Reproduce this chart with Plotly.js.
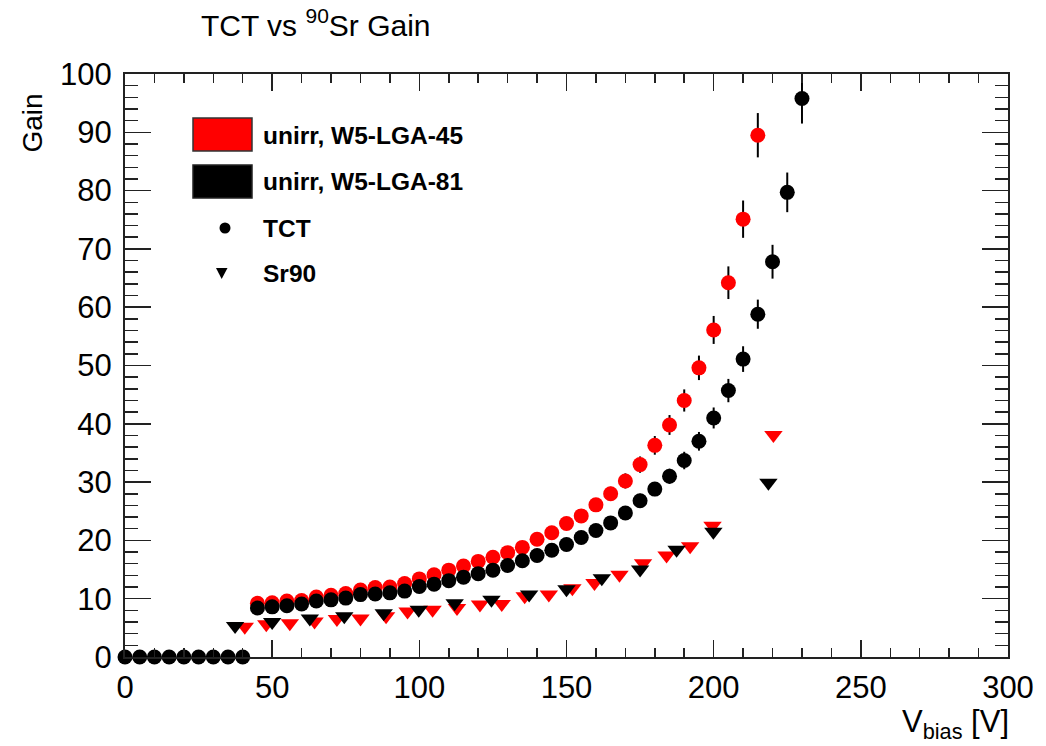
<!DOCTYPE html>
<html>
<head>
<meta charset="utf-8">
<script src="https://cdn.plot.ly/plotly-3.0.1.min.js"></script>
<style>
html,body{margin:0;padding:0;background:#fff;}
#chart{width:1046px;height:746px;}
</style>
</head>
<body>
<div id="chart"></div>
<script>
// ---- data ----
const voltTCT45 = [45,50,55,60,65,70,75,80,85,90,95,100,105,110,115,120,125,130,135,140,145,150,155,160,165,170,175,180,185,190,195,200,205,210,215];
const gainTCT45 = [9.2,9.3,9.6,9.7,10.3,10.6,10.9,11.5,11.9,12.0,12.6,13.4,14.1,14.9,15.6,16.4,17.1,17.9,18.8,20.2,21.3,22.9,24.2,26.1,28.0,30.2,33.0,36.3,39.8,44.0,49.6,56.1,64.2,75.1,89.5];
const errTCT45  = [0.4,0.4,0.4,0.4,0.4,0.5,0.5,0.5,0.5,0.5,0.5,0.6,0.6,0.6,0.7,0.7,0.7,0.8,0.8,0.9,0.9,1.0,1.0,1.1,1.2,1.3,1.4,1.6,1.7,1.9,2.1,2.4,2.8,3.2,3.8];

const voltTCT81 = [0,5,10,15,20,25,30,35,40,45,50,55,60,65,70,75,80,85,90,95,100,105,110,115,120,125,130,135,140,145,150,155,160,165,170,175,180,185,190,195,200,205,210,215,220,225,230];
const gainTCT81 = [0,0,0,0,0,0,0,0,0,8.4,8.6,8.8,9.1,9.6,9.8,10.1,10.7,10.8,11.0,11.3,12.1,12.5,13.1,13.7,14.3,14.9,15.7,16.5,17.4,18.3,19.3,20.5,21.7,23.0,24.7,26.8,28.8,31.0,33.7,37.0,41.0,45.7,51.1,58.8,67.8,79.7,95.8];
const errTCT81  = [0,0,0,0,0,0,0,0,0,0.4,0.4,0.4,0.4,0.4,0.4,0.4,0.5,0.5,0.5,0.5,0.5,0.5,0.6,0.6,0.6,0.6,0.7,0.7,0.7,0.8,0.8,0.9,0.9,1.0,1.1,1.2,1.2,1.3,1.5,1.6,1.8,2.0,2.2,2.5,2.9,3.4,4.3];

const voltSr45 = [40.7,48,56,64.4,72,80,88.7,96,104.5,112.8,120.6,128,135.8,144,152,159.5,168,176,184,192,199.6,220.3];
const gainSr45 = [5.2,5.6,5.8,6.1,6.5,6.6,7.0,7.8,8.1,8.4,9.0,9.1,10.4,10.7,11.8,12.7,14.1,16.1,17.4,19.0,22.5,38.1];

const voltSr81 = [37.4,50,62.8,74.5,87.9,99.8,112,124.5,137.3,150,162,175,187.4,199.9,218.6];
const gainSr81 = [5.3,6.0,6.6,7.0,7.5,8.1,9.2,9.8,10.7,11.6,13.5,15.0,18.4,21.5,29.9];

const legendLabels = ['unirr, W5-LGA-45','unirr, W5-LGA-81','TCT','Sr90'];
const chartTitle = 'TCT vs <sup>90</sup>Sr Gain';
const xTitle = 'V<sub>bias</sub> [V]';
const yTitle = 'Gain';

// ---- styling ----
const RED = '#ff0000', BLACK = '#000000';
const FONT = 'Liberation Sans, Arial, Helvetica, sans-serif';
const W = 1046, H = 746;
const M = {l:125, r:38, t:74, b:89};
const PW = W - M.l - M.r, PH = H - M.t - M.b;
const px = x => (x - M.l) / PW;          // pixel -> paper x
const py = y => (H - M.b - y) / PH;      // pixel -> paper y

const errStyle = arr => ({type:'data', array:arr, visible:true, color:BLACK, thickness:2, width:0});

const traces = [
  {x:voltTCT45, y:gainTCT45, error_y:errStyle(errTCT45), mode:'markers', type:'scatter',
   marker:{symbol:'circle', size:15, color:RED}, showlegend:false, cliponaxis:false},
  {x:voltSr45, y:gainSr45, mode:'markers', type:'scatter',
   marker:{symbol:'triangle-down', size:16, color:RED}, showlegend:false},
  {x:voltTCT81, y:gainTCT81, error_y:errStyle(errTCT81), mode:'markers', type:'scatter',
   marker:{symbol:'circle', size:15, color:BLACK}, showlegend:false, cliponaxis:false},
  {x:voltSr81, y:gainSr81, mode:'markers', type:'scatter',
   marker:{symbol:'triangle-down', size:16, color:BLACK}, showlegend:false}
];

// legend drawn with shapes + annotations (ROOT-style)
const shapes = [
  {type:'rect', xref:'paper', yref:'paper', x0:px(193), x1:px(252), y0:py(151), y1:py(118),
   fillcolor:RED, line:{color:'#333', width:1.5}},
  {type:'rect', xref:'paper', yref:'paper', x0:px(193), x1:px(252), y0:py(198), y1:py(165),
   fillcolor:BLACK, line:{color:'#222', width:1.5}},
  {type:'circle', xref:'paper', yref:'paper', x0:px(219.5), x1:px(230.5), y0:py(233.5), y1:py(222.5),
   fillcolor:BLACK, line:{width:0}},
  {type:'path', xref:'paper', yref:'paper',
   path:`M ${px(216)} ${py(268)} L ${px(227.5)} ${py(268)} L ${px(221.7)} ${py(279)} Z`,
   fillcolor:BLACK, line:{width:0}}
];

const legY = [135, 181, 228, 273];
const annotations = legendLabels.map((t,i)=>({
  text:'<b>'+t+'</b>', xref:'paper', yref:'paper', x:px(261), y:py(legY[i]),
  xanchor:'left', yanchor:'middle', showarrow:false,
  font:{family:FONT, size:24.5, color:BLACK}
}));
annotations.push({
  text:yTitle, xref:'paper', yref:'paper', x:px(32), y:py(92), textangle:-90,
  xanchor:'center', yanchor:'top', showarrow:false,
  font:{family:FONT, size:28, color:BLACK}
});
annotations.push({
  text:xTitle, xref:'paper', yref:'paper', x:px(1011), y:py(702),
  xanchor:'right', yanchor:'top', showarrow:false,
  font:{family:FONT, size:31, color:BLACK}
});

const axisCommon = {
  showgrid:false, zeroline:false, showline:true, linecolor:'#222', linewidth:2,
  mirror:'allticks', ticks:'inside', tickcolor:'#222', tickwidth:1.5,
  tickfont:{family:FONT, size:31, color:BLACK}, fixedrange:true
};

const layout = {
  width:W, height:H, margin:M, paper_bgcolor:'#fff', plot_bgcolor:'#fff',
  title:{text:chartTitle, x:201/W, xanchor:'left', xref:'container', y:1-25/H, yanchor:'middle',
         font:{family:FONT, size:30, color:BLACK}},
  xaxis:Object.assign({}, axisCommon, {range:[0,300], dtick:50, tick0:0, ticklen:17,
         minor:{dtick:10, ticklen:9, tickcolor:'#222', tickwidth:1.5, ticks:'inside'},
         ticklabelstandoff:2}),
  yaxis:Object.assign({}, axisCommon, {range:[0,100], dtick:10, tick0:0, ticklen:26,
         minor:{dtick:2, ticklen:13, tickcolor:'#222', tickwidth:1.5, ticks:'inside'},
         ticklabelstandoff:5}),
  shapes:shapes, annotations:annotations, showlegend:false
};

Plotly.newPlot('chart', traces, layout, {displayModeBar:false, staticPlot:true});
</script>
</body>
</html>
